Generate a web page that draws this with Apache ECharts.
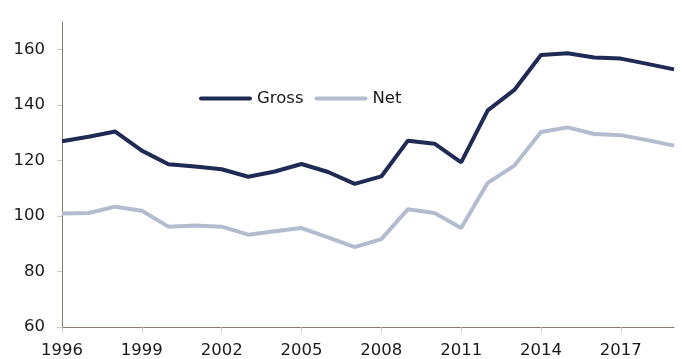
<!DOCTYPE html>
<html>
<head>
<meta charset="utf-8">
<script src="https://cdn.jsdelivr.net/npm/echarts@6/dist/echarts.min.js"></script>
<style>
  html, body { margin: 0; padding: 0; background: #fff; }
  #chart { width: 682px; height: 359px; }
</style>
</head>
<body>
<div id="chart"></div>
<script>
// Years on the horizontal axis
const years = ['1996','1997','1998','1999','2000','2001','2002','2003','2004','2005','2006','2007',
               '2008','2009','2010','2011','2012','2013','2014','2015','2016','2017','2018','2019'];

// Gross and net series
const gross = [127, 128.6, 130.5, 123.6, 118.7, 117.9, 116.9, 114.2, 116.1, 118.8, 115.9, 111.6,
               114.3, 127.2, 126.1, 119.4, 138.1, 145.5, 158.1, 158.7, 157.2, 156.8, 154.9, 152.9];
const net   = [100.9, 101.1, 103.4, 101.9, 96.2, 96.6, 96.2, 93.3, 94.5, 95.7, 92.3, 88.8,
               91.7, 102.5, 101.1, 95.7, 112.0, 118.2, 130.3, 132.0, 129.6, 129.2, 127.4, 125.4];

// Value axis tick labels
const yTicks = [60, 80, 100, 120, 140, 160];

const font = 'DejaVu Sans';
const chart = echarts.init(document.getElementById('chart'), null, { renderer: 'canvas' });

// Legend swatch: a flat bar with rounded ends
const bar = 'path://M2,0 L51,0 A2,2 0 0 1 51,4 L2,4 A2,2 0 0 1 2,0 Z';

chart.setOption({
  animation: false,
  backgroundColor: '#ffffff',
  grid: { left: 62, right: 8, top: 22, bottom: 32, containLabel: false },
  legend: {
    left: 194,
    top: 85,
    itemWidth: 53,
    itemHeight: 4,
    itemGap: 11,
    textStyle: { fontFamily: font, fontSize: 16.5, color: '#1a1a1a', padding: [0, 0, 0, 0] },
    data: [
      { name: 'Gross', icon: bar },
      { name: 'Net', icon: bar }
    ]
  },
  xAxis: {
    type: 'category',
    data: years,
    boundaryGap: false,
    axisLine: { lineStyle: { color: '#877f6f', width: 1 } },
    axisTick: { interval: 2, length: 6, lineStyle: { color: '#d0d0d0' } },
    axisLabel: { interval: 2, fontFamily: font, fontSize: 16.5, color: '#1a1a1a', margin: 15 },
    splitLine: { show: false }
  },
  yAxis: {
    type: 'value',
    min: 60,
    max: 170,
    interval: 20,
    axisLine: { show: true, lineStyle: { color: '#877f6f', width: 1 } },
    axisTick: { show: true, length: 5, lineStyle: { color: '#c8c8c8' }, customValues: yTicks },
    axisLabel: { fontFamily: font, fontSize: 16.5, color: '#1a1a1a', margin: 17, customValues: yTicks },
    splitLine: { show: false }
  },
  series: [
    {
      name: 'Gross',
      type: 'line',
      data: gross,
      symbol: 'none',
      lineStyle: { color: '#1f2a55', width: 4 },
      itemStyle: { color: '#1f2a55' }
    },
    {
      name: 'Net',
      type: 'line',
      data: net,
      symbol: 'none',
      lineStyle: { color: '#b3bccf', width: 4 },
      itemStyle: { color: '#b3bccf' }
    }
  ]
});
</script>
</body>
</html>
